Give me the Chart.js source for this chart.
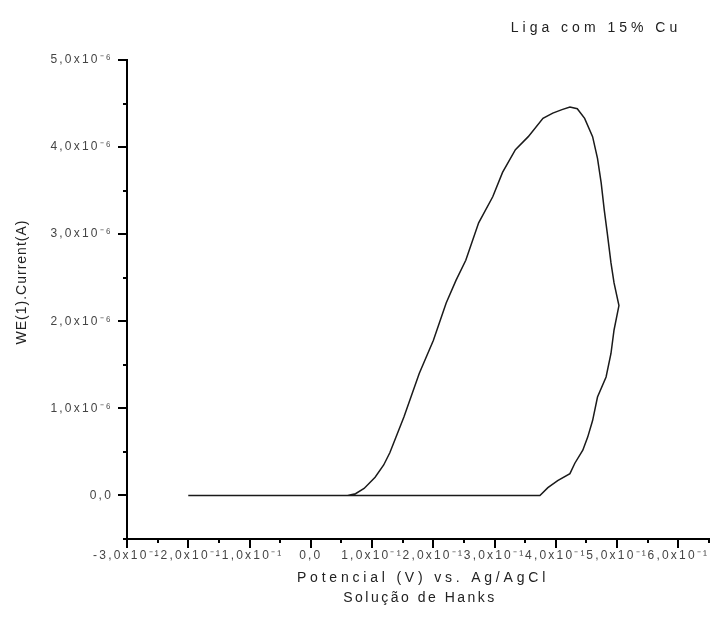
<!DOCTYPE html>
<html>
<head>
<meta charset="utf-8">
<script src="https://cdn.jsdelivr.net/npm/chart.js@4"></script>
<style>
    body { margin: 0; background: #fff; }
</style>
</head>
<body>
<canvas id="chart" width="718" height="640"></canvas>
<script>
// =============================
// DATA
// =============================
const potential = [-0.200, 0.060, 0.073, 0.087, 0.105, 0.119, 0.129, 0.152, 0.177, 0.200,
    0.221, 0.237, 0.253, 0.274, 0.297, 0.313, 0.334, 0.355, 0.379, 0.395,
    0.410, 0.423, 0.435, 0.447, 0.460, 0.468, 0.474, 0.479, 0.484, 0.490,
    0.495, 0.503, 0.495, 0.490, 0.482, 0.468, 0.460, 0.452, 0.444, 0.431,
    0.423, 0.403, 0.387, 0.374, 0.060];

// current in units of 1e-6 A
const currentMicro = [0, 0, 0.02, 0.08, 0.21, 0.35, 0.49, 0.90, 1.40, 1.78,
    2.21, 2.47, 2.70, 3.13, 3.43, 3.71, 3.97, 4.12, 4.33, 4.39,
    4.43, 4.46, 4.44, 4.33, 4.12, 3.87, 3.59, 3.28, 3.01, 2.67,
    2.44, 2.18, 1.90, 1.63, 1.36, 1.13, 0.86, 0.67, 0.52, 0.37,
    0.25, 0.17, 0.09, 0, 0];

const xRange = [-0.3, 0.65];
const yRange = [-0.5e-6, 5e-6];

const chartTitle = "Liga com 15% Cu";
const xTitle = ["Potencial (V) vs. Ag/AgCl", "Solução de Hanks"];
const yTitle = "WE(1).Current(A)";

const FONT = "'Liberation Sans', Arial, sans-serif";

// =============================
// TICK LABELS
// =============================
function xLabel(value) {
    const k = Math.round(value / 0.05);
    if (k % 2 !== 0) return "";
    const n = k / 2;
    return n === 0 ? "0,0" : `${n},0x10⁻¹`;
}

function yLabel(value) {
    const k = Math.round(value / 0.5e-6);
    if (k % 2 !== 0 || k < 0) return "";
    const n = k / 2;
    return n === 0 ? "0,0" : `${n},0x10⁻⁶`;
}

// =============================
// PLUGINS
// =============================
const spacing = {
    id: "spacing",
    beforeDraw(chart) {
        chart.ctx.letterSpacing = "2.2px";
    }
};

const tickMarks = {
    id: "tickMarks",
    afterDraw(chart) {
        const { ctx, scales: { x, y } } = chart;
        ctx.save();
        ctx.strokeStyle = "#000";
        ctx.lineWidth = 2;
        ctx.beginPath();
        x.ticks.forEach(t => {
            const px = Math.round(x.getPixelForValue(t.value));
            const len = Math.round(t.value / 0.05) % 2 === 0 ? 9 : 4;
            ctx.moveTo(px, x.top);
            ctx.lineTo(px, x.top + len);
        });
        y.ticks.forEach(t => {
            const py = Math.round(y.getPixelForValue(t.value));
            const len = Math.round(t.value / 0.5e-6) % 2 === 0 ? 9 : 4;
            ctx.moveTo(y.right, py);
            ctx.lineTo(y.right - len, py);
        });
        ctx.stroke();
        ctx.restore();
    }
};

const titles = {
    id: "titles",
    afterDraw(chart) {
        const ctx = chart.ctx;
        ctx.save();
        ctx.fillStyle = "#222";
        ctx.textAlign = "center";
        ctx.textBaseline = "middle";

        ctx.font = `14px ${FONT}`;
        ctx.letterSpacing = "4px";
        ctx.fillText(chartTitle, 596, 28);

        ctx.letterSpacing = "3.8px";
        ctx.fillText(xTitle[0], 423, 578);
        ctx.letterSpacing = "2.5px";
        ctx.fillText(xTitle[1], 420, 598);

        ctx.font = `14px ${FONT}`;
        ctx.letterSpacing = "1px";
        ctx.translate(22, 282);
        ctx.rotate(-Math.PI / 2);
        ctx.fillText(yTitle, 0, 0);
        ctx.restore();
    }
};

// =============================
// CHART
// =============================
const points = potential.map((v, i) => ({ x: v, y: currentMicro[i] * 1e-6 }));

new Chart(document.getElementById("chart"), {
    type: "scatter",
    data: {
        datasets: [{
            data: points,
            showLine: true,
            borderColor: "#1a1a1a",
            borderWidth: 1.5,
            pointRadius: 0,
            tension: 0
        }]
    },
    options: {
        responsive: false,
        devicePixelRatio: 1,
        animation: false,
        layout: { padding: { top: 60, right: 1, left: 0, bottom: 0 } },
        plugins: {
            legend: { display: false },
            tooltip: { enabled: false }
        },
        scales: {
            x: {
                type: "linear",
                min: xRange[0],
                max: xRange[1],
                afterFit: s => { s.height = 101; },
                grid: { display: false, drawTicks: false },
                border: { display: true, color: "#000", width: 2 },
                ticks: {
                    stepSize: 0.05,
                    autoSkip: false,
                    maxRotation: 0,
                    padding: 9,
                    color: "#444",
                    font: { family: FONT, size: 12 },
                    callback: xLabel
                }
            },
            y: {
                type: "linear",
                min: yRange[0],
                max: yRange[1],
                afterFit: s => { s.width = 127; },
                grid: { display: false, drawTicks: false },
                border: { display: true, color: "#000", width: 2 },
                ticks: {
                    stepSize: 0.5e-6,
                    autoSkip: false,
                    padding: 14,
                    color: "#444",
                    font: { family: FONT, size: 12 },
                    callback: yLabel
                }
            }
        }
    },
    plugins: [spacing, tickMarks, titles]
});
</script>
</body>
</html>
